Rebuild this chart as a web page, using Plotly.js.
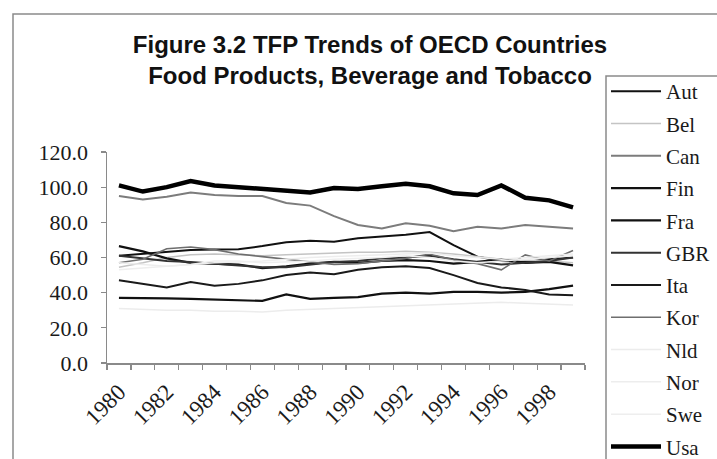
<!DOCTYPE html>
<html>
<head>
<meta charset="utf-8">
<script src="https://cdn.plot.ly/plotly-3.0.1.min.js"></script>
<style>
  html, body { margin: 0; padding: 0; background: #ffffff; }
  #chart { width: 717px; height: 459px; }
</style>
</head>
<body>
<div id="chart"></div>
<script>
// Years on the category axis
const years = [1980, 1981, 1982, 1983, 1984, 1985, 1986, 1987, 1988, 1989,
               1990, 1991, 1992, 1993, 1994, 1995, 1996, 1997, 1998, 1999];
const yearLabels = ['1980', '1982', '1984', '1986', '1988', '1990', '1992', '1994', '1996', '1998'];
const labelYears = [1980, 1982, 1984, 1986, 1988, 1990, 1992, 1994, 1996, 1998];

// TFP index by country
const aut = [61, 62, 63, 64.3, 64.5, 64.7, 66.5, 68.7, 69.5, 69, 71, 72, 73, 74.5, 67, 60.5, 58, 57.5, 59, 60];
const bel = [54.5, 57, 60, 61.5, 62, 61.5, 61, 61.5, 62, 62.5, 63, 63, 63.5, 63, 62, 60.5, 59, 58.5, 58, 57];
const can = [95, 93, 94.5, 97, 95.5, 95, 95, 91, 89.5, 83.5, 78.5, 76.5, 79.5, 78, 75, 77.5, 76.5, 78.5, 77.5, 76.5];
const fin = [37, 37, 36.8, 36.5, 36, 35.8, 35.3, 39, 36.5, 37, 37.5, 39.5, 40, 39.5, 40.5, 40.5, 40, 40.5, 42, 44];
const fra = [66.5, 63.5, 59.5, 57, 56.5, 56, 54, 55, 56.5, 57.5, 57, 58, 58.5, 58, 56.5, 57.5, 59, 57, 57.5, 55.5];
const gbr = [61, 59.5, 58, 57.5, 56.5, 55.5, 54.5, 54.5, 56, 57.5, 58, 59.5, 60, 61, 59, 57.5, 56, 57, 58, 60];
const ita = [47, 45, 43, 46, 44, 45, 47, 50, 51.5, 50.5, 53, 54.5, 55, 54, 50, 45.5, 43, 41.5, 39, 38.5];
const kor = [57, 59, 65, 66, 64.5, 62, 60.5, 59, 57.5, 56, 56.5, 58, 59.5, 62, 58.5, 56.5, 53, 61.5, 58, 64];
const nld = [31, 30.5, 30, 30, 29.5, 29.5, 29, 30, 30.5, 31, 31.5, 32, 32.5, 33, 33.5, 34, 34.5, 34, 33.5, 33];
const nor = [57, 56, 55, 56, 57, 57.5, 58, 59, 60, 60.5, 61, 61.5, 62, 62.5, 61, 60, 59, 60, 61, 62];
const swe = [53, 54, 55, 56, 58, 58, 57, 57.5, 58, 59, 59.5, 60, 61, 60, 58, 57, 58, 59, 60, 61];
const usa = [101, 97.5, 100, 103.5, 101, 100, 99.5, 98.5, 97, 99.5, 99, 100.5, 102, 100.5, 96.5, 95.5, 101, 94, 92.5, 88.5];

const series = [
  { name: 'Aut', y: aut, color: '#111111', width: 2 },
  { name: 'Bel', y: bel, color: '#c4c4c4', width: 1.5 },
  { name: 'Can', y: can, color: '#7c7c7c', width: 2 },
  { name: 'Fin', y: fin, color: '#111111', width: 2.2 },
  { name: 'Fra', y: fra, color: '#111111', width: 2.2 },
  { name: 'GBR', y: gbr, color: '#333333', width: 2 },
  { name: 'Ita', y: ita, color: '#1a1a1a', width: 2 },
  { name: 'Kor', y: kor, color: '#6e6e6e', width: 1.6 },
  { name: 'Nld', y: nld, color: '#ececec', width: 1.5 },
  { name: 'Nor', y: nor, color: '#ededed', width: 1.5 },
  { name: 'Swe', y: swe, color: '#eeeeee', width: 1.5 },
  { name: 'Usa', y: usa, color: '#000000', width: 4.5 }
];

const traces = series.map(s => ({
  type: 'scatter',
  mode: 'lines',
  name: s.name,
  x: years,
  y: s.y,
  legendgroup: s.name,
  line: { color: s.color, width: s.width },
  hoverinfo: 'skip'
}));

// plot area in pixels: x 107..585, y 152..363
const L = 107, R = 585, T = 152, B = 363;
const px = v => (v - L) / (R - L);
const py = v => (B - v) / (B - T);

const serif = 'Liberation Serif, Times New Roman, serif';
const frame = '#8a8a8a';

const layout = {
  width: 717,
  height: 459,
  margin: { l: L, r: 717 - R, t: T, b: 459 - B, autoexpand: false },
  paper_bgcolor: '#ffffff',
  plot_bgcolor: 'rgba(0,0,0,0)',
  showlegend: true,
  title: {
    text: '<b>Figure 3.2 TFP Trends of OECD Countries<br>Food Products, Beverage and Tobacco</b>',
    font: { family: 'Liberation Sans, Arial, sans-serif', size: 24, color: '#111111' },
    xref: 'container', yref: 'container',
    x: 370 / 717, xanchor: 'center',
    y: 1 - 53 / 459, yanchor: 'top'
  },
  xaxis: {
    type: 'linear',
    range: [1979.5, 1999.5],
    tickmode: 'array',
    tickvals: labelYears,
    ticktext: yearLabels,
    ticks: '',
    tickangle: -45,
    ticklabelstandoff: 5,
    tickfont: { family: serif, size: 23, color: '#1a1a1a' },
    showgrid: false,
    zeroline: false,
    showline: true,
    linecolor: frame,
    linewidth: 1.5,
    minor: { ticks: 'outside', tick0: 1979.5, dtick: 1, ticklen: 5, tickwidth: 1.2, tickcolor: frame, showgrid: false },
    fixedrange: true
  },
  yaxis: {
    range: [0, 120],
    tick0: 0,
    dtick: 20,
    tickformat: '.1f',
    ticks: 'outside',
    ticklen: 5,
    tickwidth: 1.2,
    tickcolor: frame,
    ticklabelstandoff: 8,
    tickfont: { family: serif, size: 22, color: '#1a1a1a' },
    showgrid: false,
    zeroline: false,
    showline: true,
    linecolor: frame,
    linewidth: 1.5,
    fixedrange: true
  },
  legend: {
    x: px(606), xanchor: 'left',
    y: py(71), yanchor: 'top',
    bgcolor: 'rgba(0,0,0,0)',
    borderwidth: 0,
    font: { family: serif, size: 21, color: '#1a1a1a' },
    itemwidth: 50,
    traceorder: 'grouped',
    tracegroupgap: 2,
    maxheight: 800
  },
  shapes: [
    // outer chart frame
    {
      type: 'rect', xref: 'paper', yref: 'paper', layer: 'below',
      x0: px(13), x1: px(730), y0: py(480), y1: py(14),
      line: { color: frame, width: 1.5 }, fillcolor: 'rgba(0,0,0,0)'
    },
    // legend frame
    {
      type: 'rect', xref: 'paper', yref: 'paper', layer: 'below',
      x0: px(606), x1: px(740), y0: py(480), y1: py(76),
      line: { color: frame, width: 1.5 }, fillcolor: '#ffffff'
    }
  ]
};

Plotly.newPlot('chart', traces, layout, { displayModeBar: false, staticPlot: true });
</script>
</body>
</html>
